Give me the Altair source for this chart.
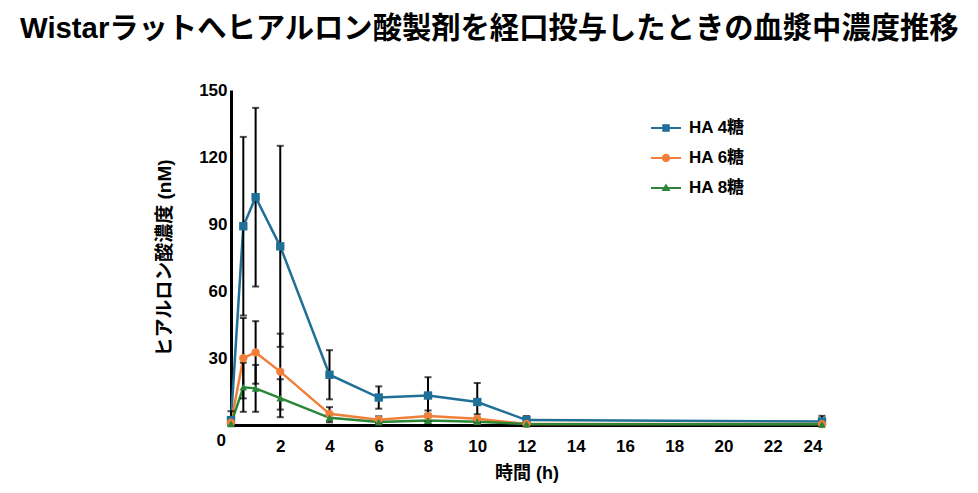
import altair as alt
import pandas as pd

# ---- data ----
times = [0, 0.5, 1, 2, 4, 6, 8, 10, 12, 24]
series_names = ["HA 4糖", "HA 6糖", "HA 8糖"]
ha4_mean = [2.2, 89, 102, 80, 22.5, 12.3, 13.2, 10.3, 2.2, 1.6]
ha4_err = [4, 40, 40, 45, 11, 5, 8.2, 8.5, 1.8, 2.5]
ha6_mean = [1.0, 29.9, 32.5, 23.9, 5.0, 2.4, 4.0, 2.8, 0.5, 0.4]
ha6_err = [1.5, 18, 14, 17, 3, 1.5, 2.5, 2.0, 0.5, 0.5]
ha8_mean = [0.5, 16.9, 16.4, 12.0, 3.2, 1.3, 2.0, 1.5, 0.4, 0.3]
ha8_err = [1.0, 11, 10.5, 8.5, 2.0, 1.0, 1.5, 1.2, 0.4, 0.4]

x_ticks = [0, 2, 4, 6, 8, 10, 12, 14, 16, 18, 20, 22, 24]
y_ticks = [30, 60, 90, 120, 150]
colors = ["#1f6f96", "#f07f3a", "#2a8636"]

rows = []
for name, means, errs in zip(series_names, [ha4_mean, ha6_mean, ha8_mean],
                             [ha4_err, ha6_err, ha8_err]):
    for t, m, e in zip(times, means, errs):
        rows.append({"time": t, "series": name, "mean": m,
                     "lo": max(m - e, 0), "hi": m + e})
df = pd.DataFrame(rows)

FONT = "Liberation Sans, Arial, Noto Sans CJK JP"
Y_TITLE = "ヒアルロン酸濃度 (nM)"

x_enc = alt.X("time:Q", scale=alt.Scale(domain=[0, 24], nice=False),
              axis=alt.Axis(values=x_ticks, title="時間 (h)", titleFontSize=18,
                            labelOffset={"condition": {"test": "datum.value === 0", "value": -15}, "value": 0},
                            labelPadding={"condition": {"test": "datum.value === 0", "value": 7}, "value": 13},
                            ))
y_enc = alt.Y("mean:Q", scale=alt.Scale(domain=[0, 150], nice=False),
              axis=alt.Axis(values=y_ticks, title=Y_TITLE, titleFontSize=19))

base = alt.Chart(df)

shapes = {"HA 4糖": "square", "HA 6糖": "circle", "HA 8糖": "triangle-up"}
sizes = {"HA 4糖": 70, "HA 6糖": 70, "HA 8糖": 60}

line_layers = []
point_layers = []
for name, col in zip(series_names, colors):
    sub = base.transform_filter(alt.datum.series == name)
    line_layers.append(
        sub.mark_line(strokeWidth=2.5, color=col).encode(x=x_enc, y=y_enc)
    )
    point_layers.append(
        sub.mark_point(filled=True, shape=shapes[name], size=sizes[name],
                       opacity=1, color=col).encode(x="time:Q", y="mean:Q")
    )

errbars = base.mark_errorbar(ticks={"size": 7, "thickness": 2}, color="black", thickness=2).encode(
    x="time:Q",
    y=alt.Y("lo:Q", title=Y_TITLE),
    y2="hi:Q",
    detail="series:N",
)

# legend symbols: line stub with marker (filled custom paths)
sq = "M-1,-0.07H1V0.07H-1Z M-0.25,-0.25H0.25V0.25H-0.25Z"
ci = "M-1,-0.07H1V0.07H-1Z M-0.28,0A0.28,0.28 0 1,1 0.28,0A0.28,0.28 0 1,1 -0.28,0Z"
tr = "M-1,-0.07H1V0.07H-1Z M0,-0.3L0.3,0.2L-0.3,0.2Z"

legend_def = alt.Legend(
    title=None, orient="none", legendX=420, legendY=23,
    symbolSize=900, symbolOpacity=1, symbolStrokeWidth=0,
    labelFont=FONT, labelFontSize=17, labelFontWeight="bold", labelColor="black",
    rowPadding=7, labelOffset=8, padding=0,
)
legend_layer = base.mark_point(filled=True, opacity=0, size=0).encode(
    x="time:Q", y="mean:Q",
    color=alt.Color("series:N", scale=alt.Scale(domain=series_names, range=colors),
                    legend=legend_def),
    shape=alt.Shape("series:N", scale=alt.Scale(domain=series_names, range=[sq, ci, tr]),
                    legend=legend_def),
)

chart = alt.layer(*line_layers, errbars, *point_layers, legend_layer).properties(
    width=591, height=335,
    autosize="none",
    padding={"left": 223, "top": 82, "right": 146, "bottom": 60},
    title=alt.TitleParams(
        "Wistarラットへヒアルロン酸製剤を経口投与したときの血漿中濃度推移",
        anchor="start", frame="group", dx=-211, dy=-33,
        font=FONT, fontSize=29.3, fontWeight="bold", color="black",
    ),
).configure_view(stroke=None).configure_axis(
    domainColor="black", domainWidth=3, ticks=False, grid=False,
    labelFont=FONT, labelFontSize=17, labelFontWeight="bold", labelColor="black",
    titleFont=FONT, titleFontSize=17, titleFontWeight="bold", titleColor="black",
    labelPadding=4,
).configure_axisY(titlePadding=24).configure_axisX(titlePadding=10)

chart.save("out.html", embed_options={"renderer": "svg", "actions": False})
